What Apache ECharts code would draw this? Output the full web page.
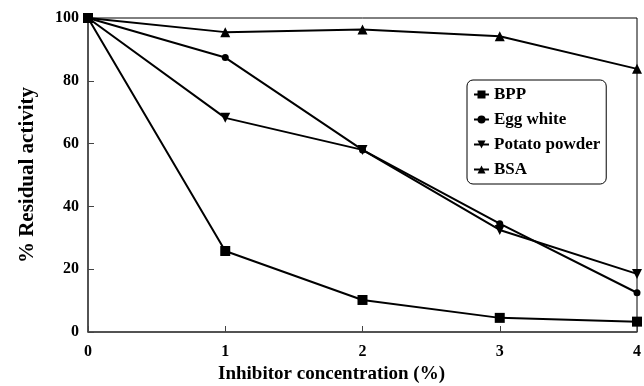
<!DOCTYPE html>
<html>
<head>
<meta charset="utf-8">
<script src="https://cdn.jsdelivr.net/npm/echarts@6/dist/echarts.min.js"></script>
<style>
html,body{margin:0;padding:0;background:#fff;}
#chart{width:644px;height:386px;}
</style>
</head>
<body>
<div id="chart"></div>
<script>
var concentrations = [0, 1, 2, 3, 4];
var bpp = [100, 25.8, 10.2, 4.5, 3.3];
var eggWhite = [100, 87.4, 58, 34.5, 12.5];
var potatoPowder = [100, 68.2, 58, 32.5, 18.5];
var bsa = [100, 95.5, 96.3, 94.2, 83.8];
var yTicks = [0, 20, 40, 60, 80, 100];

function pairs(vals) { return concentrations.map(function (c, i) { return [c, vals[i]]; }); }

var font = '"Liberation Serif", "Times New Roman", serif';
var chart = echarts.init(document.getElementById('chart'));
function mk(name, vals, symbol, size, rot) {
  return {
    name: name, type: 'line', data: pairs(vals),
    symbol: symbol, symbolSize: size, symbolRotate: rot || 0,
    showSymbol: true,
    lineStyle: { color: '#000', width: 2 },
    itemStyle: { color: '#000' },
    emphasis: { disabled: true },
    animation: false
  };
}
chart.setOption({
  animation: false,
  grid: { left: 88, right: 7, top: 18, bottom: 54, containLabel: false, outerBoundsMode: 'none',
    show: true, borderColor: '#000', borderWidth: 1, backgroundColor: 'transparent' },
  legend: {
    orient: 'vertical', left: 467, top: 80, width: 138, height: 103,
    backgroundColor: '#fff', borderColor: '#000', borderWidth: 1, borderRadius: 6,
    padding: [6, 6, 6, 6], itemGap: 8, itemWidth: 15, itemHeight: 10,
    textStyle: { fontFamily: font, fontWeight: 'bold', fontSize: 17, color: '#000', lineHeight: 17 },
    data: ['BPP', 'Egg white', 'Potato powder', 'BSA']
  },
  xAxis: {
    type: 'value', min: 0, max: 4, interval: 1,
    name: 'Inhibitor concentration (%)', nameLocation: 'middle', nameGap: 31,
    nameTextStyle: { fontFamily: font, fontWeight: 'bold', fontSize: 19, color: '#000', padding: [0, 62, 0, 0] },
    axisLine: { lineStyle: { color: '#444', width: 1.5 } },
    axisTick: { inside: true, length: 6, lineStyle: { color: '#444' } },
    axisLabel: { fontFamily: font, fontWeight: 'bold', fontSize: 16, color: '#000', margin: 12 },
    splitLine: { show: false }
  },
  yAxis: {
    type: 'value', min: 0, max: 100, interval: 20,
    name: '% Residual activity', nameLocation: 'middle', nameGap: 50,
    nameTextStyle: { fontFamily: font, fontWeight: 'bold', fontSize: 21, color: '#000' },
    axisLine: { show: true, lineStyle: { color: '#444', width: 1.5 } },
    axisTick: { show: true, inside: true, length: 6, lineStyle: { color: '#444' } },
    axisLabel: { fontFamily: font, fontWeight: 'bold', fontSize: 16, color: '#000', margin: 9,
      formatter: function (v) { return yTicks.indexOf(v) >= 0 ? String(v) : ''; } },
    splitLine: { show: false }
  },
  series: [
    mk('BPP', bpp, 'rect', 10),
    mk('Egg white', eggWhite, 'circle', 7),
    mk('Potato powder', potatoPowder, 'triangle', 10, 180),
    mk('BSA', bsa, 'triangle', 10)
  ]
});
</script>
</body>
</html>
